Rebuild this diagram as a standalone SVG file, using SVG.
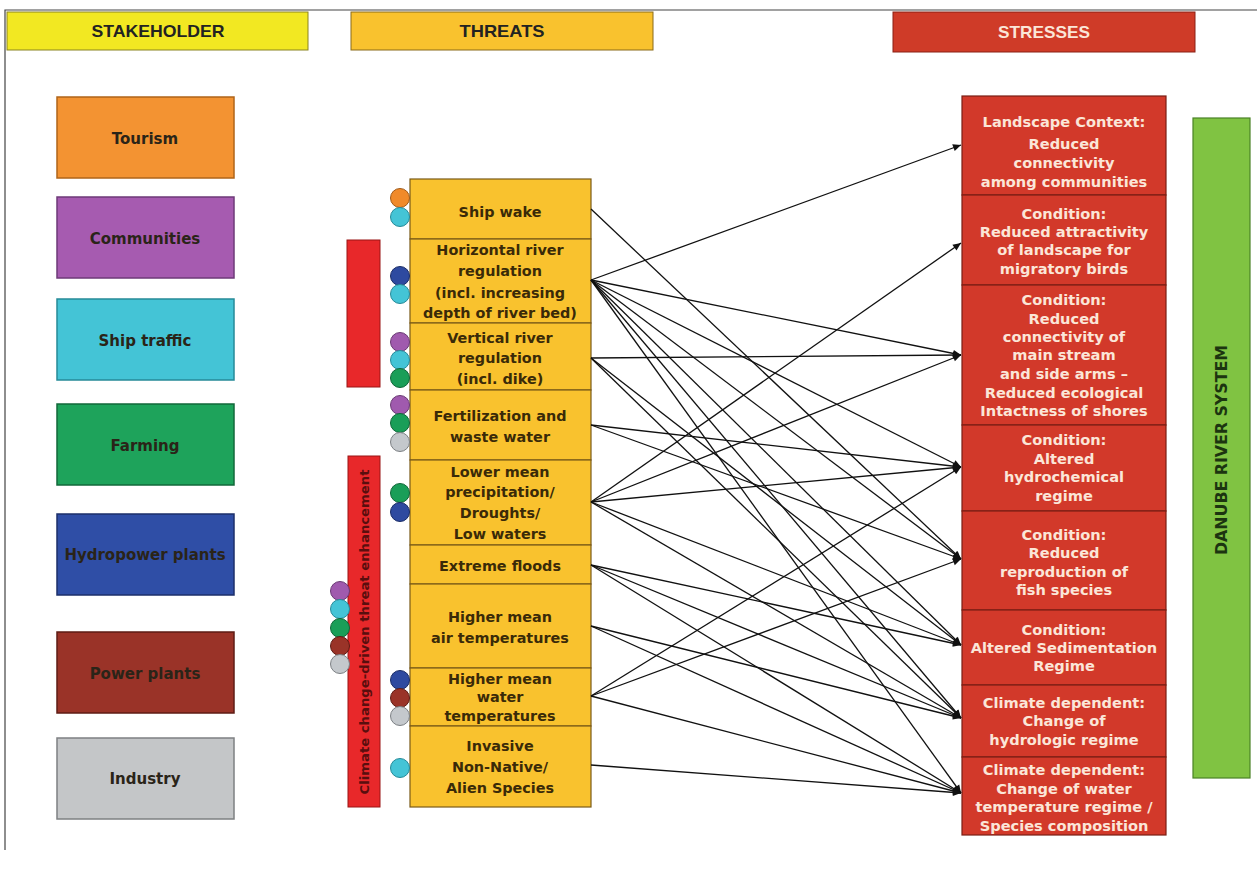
<svg xmlns="http://www.w3.org/2000/svg" width="1257" height="873" viewBox="0 0 1257 873">
<defs>
<marker id="arr" viewBox="0 0 10 10" refX="10" refY="5" markerWidth="9" markerHeight="8" markerUnits="userSpaceOnUse" orient="auto">
<path d="M0,0.5 L10,5 L0,9.5 z" fill="#111"/>
</marker>
</defs>
<style>
text{font-family:"DejaVu Sans","Liberation Sans",sans-serif;font-weight:bold;text-anchor:middle}
.hd{font-family:"Liberation Sans",Arial,sans-serif;font-size:17px}
.sk{font-size:15px;fill:#2a2418}
.th{font-size:14.4px;fill:#3a2a08}
.st{font-size:14.6px;fill:#fbe6d8}
.tb{fill:#f9c22e;stroke:#7a5a18;stroke-width:1.2}
.sb{fill:#d2392a;stroke:#7a1e14;stroke-width:1.2}
.skb{stroke-width:1.5}
.c{stroke-width:1}
.ln{stroke:#111;stroke-width:1.3;fill:none;marker-end:url(#arr)}
</style>
<rect width="1257" height="873" fill="#ffffff"/>
<path d="M5,850 L5,10 L1257,10" fill="none" stroke="#444" stroke-width="1.2"/>

<g id="header-stakeholder">
<rect x="7" y="12" width="301" height="38" fill="#f2e822" stroke="#8a8420" stroke-width="1"/>
<text class="hd" x="158" y="37" fill="#222" textLength="133" lengthAdjust="spacingAndGlyphs">STAKEHOLDER</text>
</g>
<g id="header-threats">
<rect x="351" y="12" width="302" height="38" fill="#f9c22e" stroke="#8a6a18" stroke-width="1"/>
<text class="hd" x="502" y="37" fill="#222" textLength="85" lengthAdjust="spacingAndGlyphs">THREATS</text>
</g>
<g id="header-stresses">
<rect x="893" y="12" width="302" height="40" fill="#cf3b28" stroke="#8a2014" stroke-width="1"/>
<text class="hd" x="1044" y="38" fill="#fbe6d8" textLength="92" lengthAdjust="spacingAndGlyphs">STRESSES</text>
</g>

<g id="sh-tourism"><rect class="skb" x="57" y="97" width="177" height="81" fill="#f39332" stroke="#b06418"/><text class="sk" x="145" y="144">Tourism</text></g>
<g id="sh-communities"><rect class="skb" x="57" y="197" width="177" height="81" fill="#a65bb0" stroke="#6e3a78"/><text class="sk" x="145" y="244">Communities</text></g>
<g id="sh-shiptraffic"><rect class="skb" x="57" y="299" width="177" height="81" fill="#44c4d6" stroke="#268a98"/><text class="sk" x="145" y="346">Ship traffic</text></g>
<g id="sh-farming"><rect class="skb" x="57" y="404" width="177" height="81" fill="#1ea35b" stroke="#12683a"/><text class="sk" x="145" y="451">Farming</text></g>
<g id="sh-hydropower"><rect class="skb" x="57" y="514" width="177" height="81" fill="#2f4ea6" stroke="#1c2f6a"/><text class="sk" x="145" y="560">Hydropower plants</text></g>
<g id="sh-powerplants"><rect class="skb" x="57" y="632" width="177" height="81" fill="#9a3328" stroke="#5e1c14"/><text class="sk" x="145" y="679">Power plants</text></g>
<g id="sh-industry"><rect class="skb" x="57" y="738" width="177" height="81" fill="#c4c6c8" stroke="#7e8082"/><text class="sk" x="145" y="784">Industry</text></g>

<g id="bar-regulation"><rect x="347" y="240" width="33" height="147" fill="#e8282a" stroke="#9a1414" stroke-width="1"/></g>
<g id="bar-climate">
<rect x="348" y="456" width="32" height="351" fill="#e8282a" stroke="#9a1414" stroke-width="1"/>
<text x="0" y="0" transform="translate(368.5,632) rotate(-90)" font-size="12.5" fill="#5a0e0e" textLength="325" lengthAdjust="spacingAndGlyphs">Climate change-driven threat enhancement</text>
</g>

<g id="th-shipwake"><rect class="tb" x="410" y="179" width="181" height="60"/><text class="th" x="500" y="217">Ship wake</text></g>
<g id="th-horizontal"><rect class="tb" x="410" y="239" width="181" height="84"/>
<text class="th" x="500" y="255">Horizontal river</text><text class="th" x="500" y="276">regulation</text><text class="th" x="500" y="298">(incl. increasing</text><text class="th" x="500" y="318">depth of river bed)</text></g>
<g id="th-vertical"><rect class="tb" x="410" y="323" width="181" height="67"/>
<text class="th" x="500" y="343">Vertical river</text><text class="th" x="500" y="363">regulation</text><text class="th" x="500" y="384">(incl. dike)</text></g>
<g id="th-fertilization"><rect class="tb" x="410" y="390" width="181" height="70"/>
<text class="th" x="500" y="421">Fertilization and</text><text class="th" x="500" y="442">waste water</text></g>
<g id="th-precipitation"><rect class="tb" x="410" y="460" width="181" height="85"/>
<text class="th" x="500" y="477">Lower mean</text><text class="th" x="500" y="497">precipitation/</text><text class="th" x="500" y="518">Droughts/</text><text class="th" x="500" y="539">Low waters</text></g>
<g id="th-floods"><rect class="tb" x="410" y="545" width="181" height="39"/><text class="th" x="500" y="571">Extreme floods</text></g>
<g id="th-airtemp"><rect class="tb" x="410" y="584" width="181" height="84"/>
<text class="th" x="500" y="622">Higher mean</text><text class="th" x="500" y="643">air temperatures</text></g>
<g id="th-watertemp"><rect class="tb" x="410" y="668" width="181" height="58"/>
<text class="th" x="500" y="684">Higher mean</text><text class="th" x="500" y="702">water</text><text class="th" x="500" y="721">temperatures</text></g>
<g id="th-invasive"><rect class="tb" x="410" y="726" width="181" height="81"/>
<text class="th" x="500" y="751">Invasive</text><text class="th" x="500" y="772">Non-Native/</text><text class="th" x="500" y="793">Alien Species</text></g>

<g id="stakeholder-dots">
<circle cx="400" cy="198" r="9.5" fill="#f08a2a" stroke="#a05a18" class="c"/>
<circle cx="400" cy="217" r="9.5" fill="#44c4d6" stroke="#268a98" class="c"/>
<circle cx="400" cy="276" r="9.5" fill="#2e4aa0" stroke="#1a2c66" class="c"/>
<circle cx="400" cy="294" r="9.5" fill="#44c4d6" stroke="#268a98" class="c"/>
<circle cx="400" cy="342" r="9.5" fill="#a05aae" stroke="#6a3a74" class="c"/>
<circle cx="400" cy="360" r="9.5" fill="#44c4d6" stroke="#268a98" class="c"/>
<circle cx="400" cy="378" r="9.5" fill="#1a9e58" stroke="#106638" class="c"/>
<circle cx="400" cy="405" r="9.5" fill="#a05aae" stroke="#6a3a74" class="c"/>
<circle cx="400" cy="423" r="9.5" fill="#1a9e58" stroke="#106638" class="c"/>
<circle cx="400" cy="442" r="9.5" fill="#c4c8cc" stroke="#7c8084" class="c"/>
<circle cx="400" cy="493" r="9.5" fill="#1a9e58" stroke="#106638" class="c"/>
<circle cx="400" cy="512" r="9.5" fill="#2e4aa0" stroke="#1a2c66" class="c"/>
<circle cx="340" cy="591" r="9.5" fill="#a05aae" stroke="#6a3a74" class="c"/>
<circle cx="340" cy="609" r="9.5" fill="#44c4d6" stroke="#268a98" class="c"/>
<circle cx="340" cy="628" r="9.5" fill="#1a9e58" stroke="#106638" class="c"/>
<circle cx="340" cy="646" r="9.5" fill="#9a3328" stroke="#5e1c14" class="c"/>
<circle cx="340" cy="664" r="9.5" fill="#c4c8cc" stroke="#7c8084" class="c"/>
<circle cx="400" cy="680" r="9.5" fill="#2e4aa0" stroke="#1a2c66" class="c"/>
<circle cx="400" cy="698" r="9.5" fill="#9a3328" stroke="#5e1c14" class="c"/>
<circle cx="400" cy="716" r="9.5" fill="#c4c8cc" stroke="#7c8084" class="c"/>
<circle cx="400" cy="768" r="9.5" fill="#44c4d6" stroke="#268a98" class="c"/>
</g>

<g id="st-landscape"><rect class="sb" x="962" y="96" width="204" height="99"/>
<text class="st" x="1064" y="127">Landscape Context:</text><text class="st" x="1064" y="149">Reduced</text><text class="st" x="1064" y="168">connectivity</text><text class="st" x="1064" y="187">among communities</text></g>
<g id="st-attractivity"><rect class="sb" x="962" y="195" width="204" height="90"/>
<text class="st" x="1064" y="219">Condition:</text><text class="st" x="1064" y="237">Reduced attractivity</text><text class="st" x="1064" y="255">of landscape for</text><text class="st" x="1064" y="274">migratory birds</text></g>
<g id="st-connectivity"><rect class="sb" x="962" y="285" width="204" height="140"/>
<text class="st" x="1064" y="305">Condition:</text><text class="st" x="1064" y="324">Reduced</text><text class="st" x="1064" y="342">connectivity of</text><text class="st" x="1064" y="360">main stream</text><text class="st" x="1064" y="379">and side arms –</text><text class="st" x="1064" y="398">Reduced ecological</text><text class="st" x="1064" y="416">Intactness of shores</text></g>
<g id="st-hydrochemical"><rect class="sb" x="962" y="425" width="204" height="86"/>
<text class="st" x="1064" y="445">Condition:</text><text class="st" x="1064" y="464">Altered</text><text class="st" x="1064" y="482">hydrochemical</text><text class="st" x="1064" y="501">regime</text></g>
<g id="st-reproduction"><rect class="sb" x="962" y="511" width="204" height="99"/>
<text class="st" x="1064" y="540">Condition:</text><text class="st" x="1064" y="558">Reduced</text><text class="st" x="1064" y="577">reproduction of</text><text class="st" x="1064" y="595">fish species</text></g>
<g id="st-sedimentation"><rect class="sb" x="962" y="610" width="204" height="75"/>
<text class="st" x="1064" y="635">Condition:</text><text class="st" x="1064" y="653">Altered Sedimentation</text><text class="st" x="1064" y="671">Regime</text></g>
<g id="st-hydrologic"><rect class="sb" x="962" y="685" width="204" height="72"/>
<text class="st" x="1064" y="708">Climate dependent:</text><text class="st" x="1064" y="726">Change of</text><text class="st" x="1064" y="745">hydrologic regime</text></g>
<g id="st-watertemp"><rect class="sb" x="962" y="757" width="204" height="78"/>
<text class="st" x="1064" y="775">Climate dependent:</text><text class="st" x="1064" y="794">Change of water</text><text class="st" x="1064" y="812">temperature regime /</text><text class="st" x="1064" y="831">Species composition</text></g>

<g id="danube">
<rect x="1193" y="118" width="57" height="660" fill="#80c342" stroke="#4a8226" stroke-width="1.2"/>
<text x="0" y="0" transform="translate(1227,450) rotate(-90)" font-family="Liberation Sans, Arial, sans-serif" font-size="16" fill="#1c3410" textLength="210" lengthAdjust="spacingAndGlyphs">DANUBE RIVER SYSTEM</text>
</g>

<g id="connectors">
<line class="ln" x1="591" y1="209" x2="961" y2="559"/>
<line class="ln" x1="591" y1="280" x2="961" y2="145"/>
<line class="ln" x1="591" y1="280" x2="961" y2="355"/>
<line class="ln" x1="591" y1="280" x2="961" y2="467"/>
<line class="ln" x1="591" y1="280" x2="961" y2="559"/>
<line class="ln" x1="591" y1="280" x2="961" y2="645"/>
<line class="ln" x1="591" y1="280" x2="961" y2="718"/>
<line class="ln" x1="591" y1="280" x2="961" y2="793"/>
<line class="ln" x1="591" y1="358" x2="961" y2="355"/>
<line class="ln" x1="591" y1="358" x2="961" y2="645"/>
<line class="ln" x1="591" y1="358" x2="961" y2="718"/>
<line class="ln" x1="591" y1="425" x2="961" y2="467"/>
<line class="ln" x1="591" y1="425" x2="961" y2="559"/>
<line class="ln" x1="591" y1="502" x2="961" y2="243"/>
<line class="ln" x1="591" y1="502" x2="961" y2="355"/>
<line class="ln" x1="591" y1="502" x2="961" y2="467"/>
<line class="ln" x1="591" y1="502" x2="961" y2="645"/>
<line class="ln" x1="591" y1="502" x2="961" y2="718"/>
<line class="ln" x1="591" y1="565" x2="961" y2="645"/>
<line class="ln" x1="591" y1="565" x2="961" y2="718"/>
<line class="ln" x1="591" y1="565" x2="961" y2="793"/>
<line class="ln" x1="591" y1="626" x2="961" y2="718"/>
<line class="ln" x1="591" y1="626" x2="961" y2="793"/>
<line class="ln" x1="591" y1="696" x2="961" y2="467"/>
<line class="ln" x1="591" y1="696" x2="961" y2="559"/>
<line class="ln" x1="591" y1="696" x2="961" y2="793"/>
<line class="ln" x1="591" y1="765" x2="961" y2="793"/>
</g>
</svg>
